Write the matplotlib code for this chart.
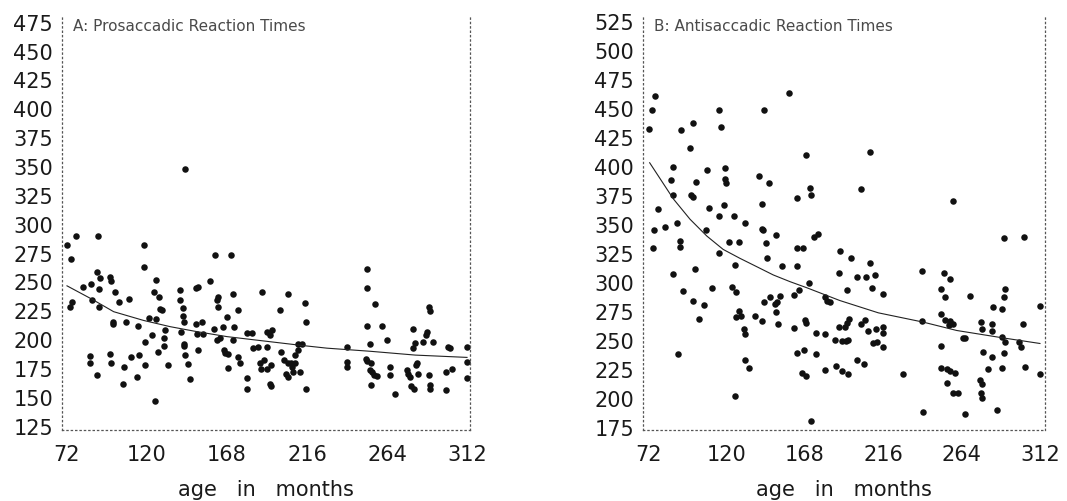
import matplotlib

matplotlib.use("Agg")
import matplotlib.pyplot as plt
import numpy as np

# --- panel A: prosaccadic reaction times (age in months, RT in ms) ---
pro_age = [72, 77.6, 74.6, 90.7, 118.2, 74, 75, 81.6, 86.5, 87, 90, 92, 91, 91.5, 98, 98.5,
           100.7, 103, 99.5, 99.5, 107.7, 109, 114.6, 118.2, 125.4, 124.5, 127, 128, 129, 121,
           125.5, 118.6, 123.2, 130.8, 130.2, 130.2, 126.6, 85.7, 86, 90, 98, 98.7, 106, 110.5,
           115.2, 118.6, 114.2, 105.5, 124.8, 132.7, 140, 140, 141.7, 141.9, 142.2, 140.3, 142,
           142.5, 143, 144.7, 145.7, 149.5, 150.5, 149.7, 153.3, 150, 153.5, 150.7, 157.8, 161,
           170.4, 162.6, 162, 162.8, 160.4, 162, 164, 166, 167, 168, 165.5, 171.8, 172.4, 171.4,
           168.8, 168.8, 174.4, 174.8, 175.5, 180, 183, 180, 180, 183.5, 186.5, 188.9, 187.5,
           188.5, 192, 192, 195, 194, 192, 194, 194.5, 194.5, 199.6, 200.2, 202, 204.6, 204.3,
           203.6, 204.3, 207, 208.6, 207.6, 211.6, 209, 210.6, 210.6, 215, 215.2, 215.6, 213,
           190.4, 206.5, 239.7, 239.7, 239.7, 251.8, 251.8, 256.8, 251.8, 261, 254, 251.4,
           251.8, 254.5, 254, 255, 257.7, 256, 254.4, 263.8, 265.8, 265.8, 268.8, 279.5, 279.5,
           276, 276.6, 277.8, 278.4, 280, 282, 281.2, 282.6, 285.3, 280.6, 287.5, 288, 289,
           289.6, 291.5, 289.3, 290, 289.6, 300.8, 301.8, 299.3, 303, 299.6, 312, 312, 312, 142.6]
pro_rt = [282, 290, 270, 290, 282, 229, 233, 246, 249, 235, 259, 254, 244, 229, 255, 251,
          242, 233, 216, 214, 216, 236, 212, 263, 252, 242, 237, 227, 226, 219,
          218, 198, 204, 209, 202, 195, 190, 186, 180, 170, 188, 180, 177, 185,
          187, 178, 168, 162, 147, 178, 243, 235, 228, 221, 216, 207, 197,
          195, 187, 179, 166, 245, 246, 214, 216, 205, 205, 191, 251, 274,
          274, 237, 235, 229, 210, 200, 202, 191, 189, 220, 211, 240, 211, 200,
          188, 176, 226, 185, 180, 206, 206, 167, 158, 193, 194, 242, 180,
          175, 175, 207, 209, 204, 194, 162, 160, 178, 226, 190, 183, 240, 180,
          171, 168, 177, 180, 172, 172, 187, 191, 197, 232, 216, 158, 197,
          183, 180, 194, 181, 177, 262, 245, 231, 212, 212, 197, 184,
          182, 180, 174, 172, 169, 170, 161, 200, 177, 170, 153, 210, 193,
          174, 171, 168, 160, 158, 180, 178, 171, 198, 197.5, 204, 207, 229,
          225, 198, 170, 161, 158, 194, 193, 172, 175, 157, 194, 181, 167, 348]

# fitted curve
pro_fit_age = [72, 87, 100, 118, 134, 150, 168, 212, 228, 254, 281, 312]
pro_fit_rt = [247, 235.4, 224.6, 217, 211.6, 207.3, 203, 195.5, 193, 190.3, 187, 185]

# --- panel B: antisaccadic reaction times ---
anti_age = [76.5, 74.5, 72.4, 92, 99.6, 115.5, 116.5, 143, 158.4, 98, 169, 208.2, 87.3, 85.9,
            101.2, 108.4, 119, 119, 119.5, 140, 146, 171, 172, 202.7, 87.3, 98.5, 99.5, 163,
            142, 258.5, 78, 109.4, 118.6, 115.3, 124.7, 131.2, 75.5, 82.6, 90, 107.3, 141.5,
            142.5, 150.2, 175.8, 173.5, 121.6, 127.6, 91.4, 91.4, 75, 144.5, 163, 167, 189.4,
            290, 302, 115.3, 125, 154, 163.3, 87.3, 101, 196, 207.8, 189, 199.7, 205.2, 210.9,
            240, 253.4, 256.8, 145, 170.6, 164.5, 161.5, 209.3, 216, 194, 93.4, 111.2, 123.5,
            126, 99.6, 106, 103.2, 143, 146.6, 151, 153, 149.6, 150.6, 128, 129.2, 126, 137.4,
            142, 151.6, 161.3, 168.4, 169, 180.2, 181.3, 183.3, 195, 194, 189, 202.7, 204.8,
            206.8, 211.3, 216, 216, 269, 290.5, 290, 283.4, 288.5, 312, 251.7, 253.8, 251.7,
            253.8, 256.8, 258.9, 239.5, 256.4, 276, 282.4, 276.4, 282.8, 265, 266, 289, 290.5,
            299.3, 300.3, 301.8, 290.1, 288.5, 302.8, 312, 276.9, 282.4, 280, 275.2, 276.3,
            275.6, 276.3, 285.4, 266, 240.5, 262, 258.9, 255.2, 251.7, 254.8, 256.8, 259.8,
            251.7, 228.2, 180.3, 186.4, 190.5, 193.5, 194.6, 192.5, 175.1, 167.6, 163, 174.7,
            166, 169, 180.3, 187, 190.5, 194.6, 199.7, 204, 209.9, 212, 216, 130.6, 131.2,
            131.2, 133.7, 125, 90.4, 172]
anti_rt = [461, 449, 433, 432, 437.5, 449, 434, 449, 464, 416, 410, 413, 400, 389,
           387, 397, 399, 390, 386, 392, 386, 381.5, 376, 381, 376, 376, 374, 373,
           368.5, 371, 363.5, 365, 367, 357.5, 357.5, 352, 346, 348, 351.6, 345.3, 346.7,
           345.3, 341, 342.4, 339.5, 335, 335.7, 336.6, 331.3, 330.2, 334.3, 330, 330, 328,
           339, 340, 326, 315.7, 315, 315, 308, 312, 322, 317, 309, 305.5, 305.5, 307,
           310.6, 309, 303.5, 322, 300, 294, 290, 296, 291, 294, 293.5, 295.5, 297,
           292, 285, 281.5, 269, 284, 288, 284, 289, 282, 275, 276, 272, 271, 271.5,
           267, 264.4, 261.5, 268.4, 265.5, 288, 285, 283.5, 269, 265.5, 262.6, 265, 268.4,
           258.6, 260.6, 262.6, 257, 289, 295, 288, 279, 278, 280.6, 295, 288, 273.5,
           268.4, 267, 265, 267, 263.5, 266.4, 265, 260.6, 258.6, 252.7, 252.7, 253.5, 249,
           249, 245, 264.4, 240, 227, 228, 221.5, 241, 236.4, 226.4, 216.4, 213.5,
           205, 200.7, 190.7, 187, 188.7, 205.6, 205, 214, 227, 226.4, 224.4, 222.7,
           245.8, 221.5, 255.8, 251, 250, 250, 251, 262, 257, 242.7, 240, 238.7,
           222.7, 219.8, 225.5, 228.4, 224.2, 222, 233.5, 230.7, 248.7, 249.2, 245, 260.6, 256.4,
           233.5, 227, 203, 238.7, 181.6]

anti_fit_age = [73, 87.5, 97.7, 108, 118, 128.3, 138.6, 148.7, 159, 169.2, 189.4, 213,
                240.5, 261, 288.5, 312]
anti_fit_rt = [403.6, 372.5, 355, 340.5, 329, 321.3, 314.1, 307, 301.2, 296, 285,
               274.4, 266.4, 259.2, 253, 248]

age_ticks = [72, 120, 168, 216, 264, 312]
pro_ticks = list(range(125, 476, 25))
anti_ticks = list(range(175, 526, 25))

TICK_FONT = "DejaVu Sans"
INK = "#1a1a1a"


def style_axes(ax, yticks):
    for side in ("left", "right", "bottom"):
        ax.spines[side].set_linestyle((0, (1, 2.5)))
        ax.spines[side].set_linewidth(0.9)
        ax.spines[side].set_color("#555555")
    ax.spines["top"].set_visible(False)
    ax.set_xticks(age_ticks)
    ax.set_yticks(yticks)
    ax.tick_params(axis="y", length=0, pad=6.5, labelsize=15)
    ax.tick_params(axis="x", length=0, pad=11, labelsize=15)
    for lab in ax.get_xticklabels() + ax.get_yticklabels():
        lab.set_fontfamily(TICK_FONT)
        lab.set_color(INK)
    ax.set_xlabel("age   in   months", fontsize=15, family=TICK_FONT, color=INK,
                  va="baseline")
    ax.xaxis.set_label_coords(0.5, -0.16)


def panel_title(ax, text):
    ax.text(0.027, 0.9735, text, transform=ax.transAxes, fontsize=11,
            family="DejaVu Sans", color="#4a4a4a", va="center", ha="left")


fig = plt.figure(figsize=(10.67, 5.01), dpi=100)
ax_a = fig.add_axes([0.0581, 0.1417, 0.3824, 0.8283])
ax_b = fig.add_axes([0.6026, 0.1417, 0.3768, 0.8283])

ax_a.scatter(pro_age, pro_rt, s=22, color="#111111", marker="o", linewidths=0)
ax_a.plot(pro_fit_age, pro_fit_rt, color="#222222", lw=0.8)
ax_a.set_xlim(69, 313.8)
ax_a.set_ylim(122.1, 481.6)
style_axes(ax_a, pro_ticks)
panel_title(ax_a, "A: Prosaccadic Reaction Times")

ax_b.scatter(anti_age, anti_rt, s=22, color="#111111", marker="o", linewidths=0)
ax_b.plot(anti_fit_age, anti_fit_rt, color="#222222", lw=0.8)
ax_b.set_xlim(68.9, 315.1)
ax_b.set_ylim(173.5, 530.8)
style_axes(ax_b, anti_ticks)
panel_title(ax_b, "B: Antisaccadic Reaction Times")

fig.savefig("out.png", dpi=100)
